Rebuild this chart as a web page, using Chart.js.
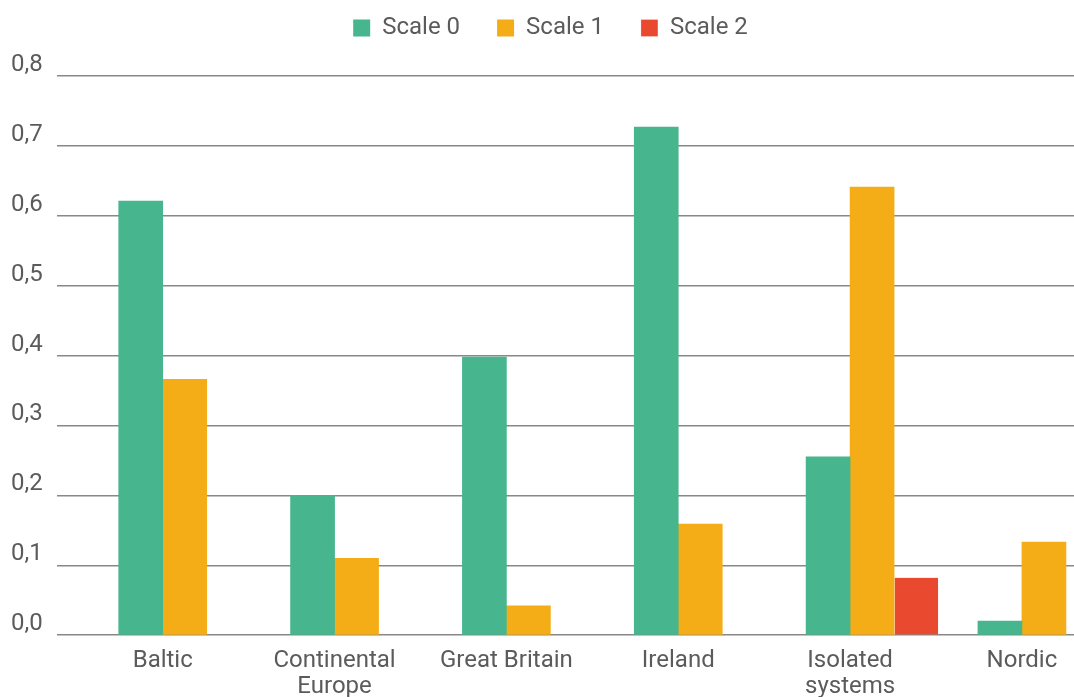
<!DOCTYPE html>
<html>
<head>
<meta charset="utf-8">
<script src="https://cdn.jsdelivr.net/npm/chart.js@4"></script>
<style>
    body { margin: 0; background: #fff; }
    #wrap { width: 1074px; height: 697px; position: relative; }
</style>
</head>
<body>
<div id="wrap"><canvas id="chart-bars"></canvas></div>
<script>
const categories = ['Baltic', 'Continental Europe', 'Great Britain', 'Ireland', 'Isolated systems', 'Nordic'];
const tickLabels = [['Baltic'], ['Continental', 'Europe'], ['Great Britain'], ['Ireland'], ['Isolated', 'systems'], ['Nordic']];
const scale0 = [0.621, 0.200, 0.398, 0.727, 0.255, 0.020];
const scale1 = [0.366, 0.110, 0.042, 0.159, 0.641, 0.133];
const scale2 = [null, null, null, null, 0.082, null];
const yTicks = [0, 0.1, 0.2, 0.3, 0.4, 0.5, 0.6, 0.7, 0.8];

const TEXT = '#5b5b5b';
const FONT = 'Roboto';

function toPoints(values) {
    return values.map((v, i) => ({ x: i, y: v }));
}

// extra room under the legend, and nudge it a bit to the right
const legendMargin = {
    id: 'legendMargin',
    beforeInit(chart) {
        const fitValue = chart.legend.fit;
        chart.legend.fit = function fit() {
            fitValue.bind(chart.legend)();
            this.height += 26;
        };
    },
    afterLayout(chart) {
        chart.legend.left += 30;
    }
};

document.addEventListener("DOMContentLoaded", function() {
    const ctx = document.getElementById('chart-bars').getContext('2d');
    new Chart(ctx, {
        type: 'bar',
        data: {
            datasets: [
                // empty slot so the labels sit between Scale 0 and Scale 1
                { label: '', data: toPoints(categories.map(() => null)), backgroundColor: 'rgba(0,0,0,0)' },
                { label: 'Scale 0', data: toPoints(scale0), backgroundColor: '#47b58e' },
                { label: 'Scale 1', data: toPoints(scale1), backgroundColor: '#f4ad16' },
                { label: 'Scale 2', data: toPoints(scale2), backgroundColor: '#e94a2f',
                  borderColor: '#fff', borderWidth: { left: 1, top: 0, right: 0, bottom: 0 } }
            ]
        },
        plugins: [legendMargin],
        options: {
            responsive: true,
            maintainAspectRatio: false,
            animation: false,
            barThickness: 44,
            layout: { padding: { left: -3, right: 0, top: -21, bottom: -8 } },
            plugins: {
                tooltip: { enabled: false },
                legend: {
                    position: 'top',
                    labels: {
                        filter: item => item.text !== '',
                        boxWidth: 17,
                        boxHeight: 17,
                        padding: 37,
                        color: TEXT,
                        font: { family: FONT, size: 24 }
                    }
                }
            },
            scales: {
                x: {
                    type: 'linear',
                    offset: false,
                    min: -0.617,
                    max: 5.303,
                    grid: { display: false },
                    border: { display: false },
                    afterBuildTicks: axis => {
                        axis.ticks = categories.map((c, i) => ({ value: i }));
                    },
                    ticks: {
                        autoSkip: false,
                        maxRotation: 0,
                        padding: 5,
                        color: TEXT,
                        font: { family: FONT, size: 24, lineHeight: 1.08 },
                        callback: value => tickLabels[value]
                    }
                },
                y: {
                    min: 0,
                    max: 0.8,
                    afterBuildTicks: axis => {
                        axis.ticks = yTicks.map(v => ({ value: v }));
                    },
                    grid: { color: '#888', lineWidth: 1.5, drawTicks: false },
                    border: { display: false },
                    ticks: {
                        padding: 14,
                        labelOffset: -11,
                        color: TEXT,
                        font: { family: FONT, size: 24 },
                        callback: value => value.toFixed(1).replace('.', ',')
                    }
                }
            }
        }
    });
});
</script>
</body>
</html>
